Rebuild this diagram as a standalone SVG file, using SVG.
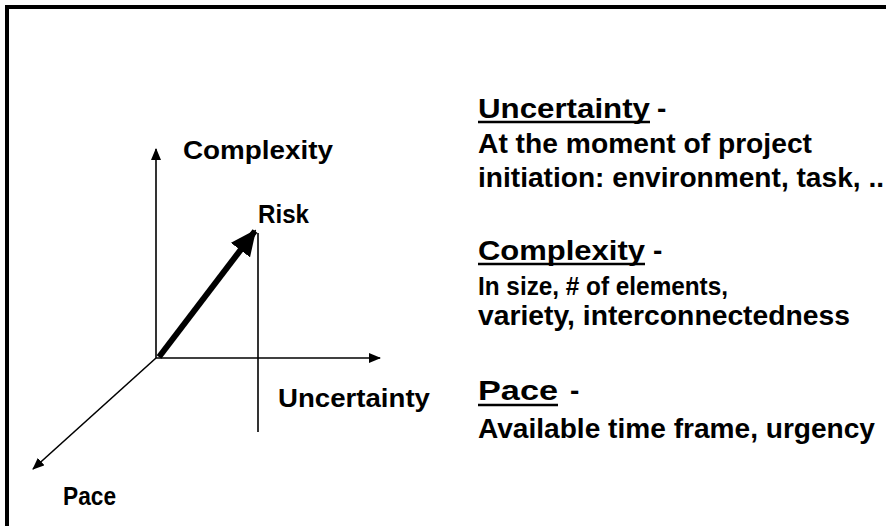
<svg xmlns="http://www.w3.org/2000/svg" width="886" height="526" viewBox="0 0 886 526">
<style>
text{font-family:"Liberation Sans",Arial,Helvetica,sans-serif;font-weight:bold;fill:#000}
.lbl{font-size:25px}
.txt{font-size:28px}
.ax{stroke:#000;stroke-width:1.6;fill:none}
.ul{stroke:#000;stroke-width:2.5}
</style>
<defs>
<marker id="ah" viewBox="0 0 12 10" refX="11" refY="5" markerWidth="12" markerHeight="10" markerUnits="userSpaceOnUse" orient="auto">
<path d="M0,0 L12,5 L0,10 Z" fill="#000"/>
</marker>
<marker id="ahb" viewBox="0 0 26 24" refX="24" refY="12" markerWidth="26" markerHeight="24" markerUnits="userSpaceOnUse" orient="auto">
<path d="M0,0 L26,12 L0,24 Z" fill="#000"/>
</marker>
</defs>
<rect x="7" y="7" width="900" height="540" fill="#fff" stroke="#000" stroke-width="4"/>
<g id="connectors">
<line class="ax" x1="156" y1="358" x2="156" y2="149" marker-end="url(#ah)"/>
<line class="ax" x1="156" y1="358" x2="380" y2="358" marker-end="url(#ah)"/>
<line class="ax" x1="156" y1="358" x2="33" y2="469" marker-end="url(#ah)"/>
<line class="ax" x1="258" y1="233" x2="258" y2="432"/>
<line x1="159" y1="357" x2="255" y2="231" stroke="#000" stroke-width="6" marker-end="url(#ahb)"/>
</g>
<g id="complexity-axis"><text class="lbl" x="183" y="159" textLength="150" lengthAdjust="spacingAndGlyphs">Complexity</text></g>
<g id="risk"><text class="lbl" x="258" y="223" textLength="51" lengthAdjust="spacingAndGlyphs">Risk</text></g>
<g id="uncertainty-axis"><text class="lbl" x="278" y="407" textLength="152" lengthAdjust="spacingAndGlyphs">Uncertainty</text></g>
<g id="pace-axis"><text class="lbl" x="63" y="505" textLength="53" lengthAdjust="spacingAndGlyphs">Pace</text></g>
<g id="def-uncertainty">
<text class="txt" x="478" y="118" textLength="172" lengthAdjust="spacingAndGlyphs">Uncertainty</text>
<line class="ul" x1="478" y1="122" x2="650" y2="122"/>
<text class="txt" x="657" y="118">-</text>
<text class="txt" x="478" y="153" textLength="334" lengthAdjust="spacingAndGlyphs">At the moment of project</text>
<text class="txt" x="478" y="187" textLength="406" lengthAdjust="spacingAndGlyphs">initiation: environment, task, ..</text>
</g>
<g id="def-complexity">
<text class="txt" x="478" y="260" textLength="167" lengthAdjust="spacingAndGlyphs">Complexity</text>
<line class="ul" x1="478" y1="264" x2="645" y2="264"/>
<text class="txt" x="653" y="260">-</text>
<text class="txt" x="478" y="295" style="font-size:26px" textLength="250" lengthAdjust="spacingAndGlyphs">In size, # of elements,</text>
<text class="txt" x="478" y="325" textLength="372" lengthAdjust="spacingAndGlyphs">variety, interconnectedness</text>
</g>
<g id="def-pace">
<text class="txt" x="478" y="400" textLength="80" lengthAdjust="spacingAndGlyphs">Pace</text>
<line class="ul" x1="478" y1="405" x2="558" y2="405"/>
<text class="txt" x="570" y="400">-</text>
<text class="txt" x="478" y="438" textLength="397" lengthAdjust="spacingAndGlyphs">Available time frame, urgency</text>
</g>
</svg>
